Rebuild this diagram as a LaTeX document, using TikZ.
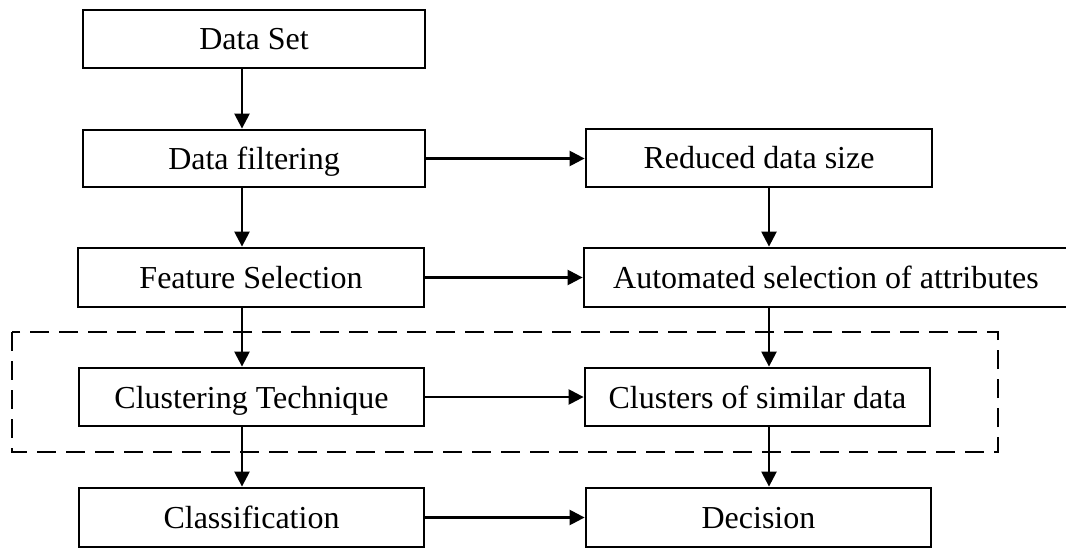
\documentclass[tikz,border=0pt]{standalone}
\usepackage{fontspec}
\setmainfont{Liberation Serif}
\usetikzlibrary{arrows.meta}
\begin{document}
\begin{tikzpicture}[x=1pt,y=-1pt,
  box/.style={draw,line width=2.8pt,rectangle,inner sep=0pt,
    font=\fontsize{32}{38}\selectfont,text height=24pt,text depth=2pt},
  flow/.style={line width=2.4pt,-{Triangle[length=15pt,width=15pt]}},
  group/.style={line width=2.2pt,dash pattern=on 19pt off 10pt}]
\useasboundingbox (0,0) rectangle (1066,548);
% left column
\node[box,minimum width=342pt,minimum height=58pt] (ds) at (254,39) {Data Set};
\node[box,minimum width=342pt,minimum height=57pt] (df) at (254,158.5) {Data filtering};
\node[box,minimum width=346pt,minimum height=59pt] (fs) at (251,277.5) {Feature Selection};
\node[box,minimum width=345pt,minimum height=58pt] (ct) at (251.5,397) {Clustering Technique};
\node[box,minimum width=345pt,minimum height=59pt] (cl) at (251.5,517.5) {Classification};
% right column
\node[box,minimum width=346pt,minimum height=58pt] (rd) at (759,158) {Reduced data size};
\node[box,minimum width=484pt,minimum height=59pt] (au) at (826,277.5) {Automated selection of attributes};
\node[box,minimum width=345pt,minimum height=58pt] (cs) at (757.5,397) {Clusters of similar data};
\node[box,minimum width=345pt,minimum height=59pt] (de) at (758.5,517.5) {Decision};
% vertical guides for the downward connectors
\coordinate (lx) at (242,0);
\coordinate (rx) at (769,0);
% downward flow
\draw[flow] (ds.south -| lx) -- (df.north -| lx);
\draw[flow] (df.south -| lx) -- (fs.north -| lx);
\draw[flow] (fs.south -| lx) -- (ct.north -| lx);
\draw[flow] (ct.south -| lx) -- (cl.north -| lx);
\draw[flow] (rd.south -| rx) -- (au.north -| rx);
\draw[flow] (au.south -| rx) -- (cs.north -| rx);
\draw[flow] (cs.south -| rx) -- (de.north -| rx);
% sideways flow
\draw[flow] (df.east) -- (df.east -| rd.west);
\draw[flow] (fs.east) -- (fs.east -| au.west);
\draw[flow] (ct.east) -- (ct.east -| cs.west);
\draw[flow] (cl.east) -- (cl.east -| de.west);
% clustering stage frame
\coordinate (g1) at (12,332);
\coordinate (g2) at (998,452);
\draw[group] (g1) rectangle (g2);
\end{tikzpicture}
\end{document}
